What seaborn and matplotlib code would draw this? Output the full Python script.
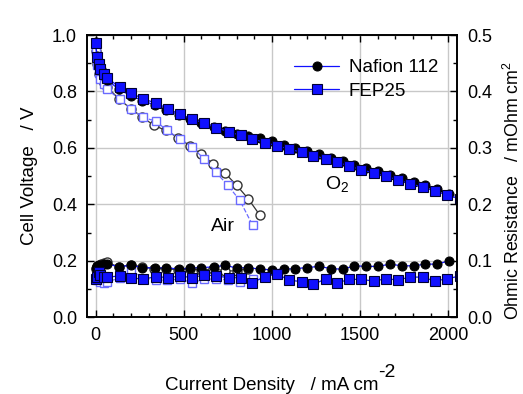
import matplotlib
matplotlib.use("Agg")
import matplotlib.pyplot as plt
from matplotlib.ticker import MultipleLocator, FormatStrFormatter
import seaborn as sns

# ---- data ----
x_naf_o2 = [0, 8, 18, 28, 45, 65, 130, 200, 265, 335, 400, 470, 535, 600, 670, 735, 800, 865,
            932, 1002, 1070, 1131, 1201, 1269, 1335, 1401, 1468, 1534, 1600, 1670, 1737, 1803,
            1869, 1936, 2002]
v_naf_o2 = [0.975, 0.925, 0.898, 0.878, 0.858, 0.842, 0.808, 0.785, 0.768, 0.752, 0.735, 0.718,
            0.704, 0.690, 0.674, 0.661, 0.650, 0.642, 0.634, 0.624, 0.612, 0.601, 0.590, 0.577,
            0.565, 0.553, 0.541, 0.530, 0.518, 0.503, 0.492, 0.478, 0.467, 0.453, 0.435]
r_naf_o2 = [0.088, 0.090, 0.092, 0.093, 0.094, 0.095, 0.089, 0.092, 0.088, 0.087, 0.088, 0.085,
            0.087, 0.088, 0.089, 0.092, 0.087, 0.088, 0.085, 0.084, 0.085, 0.086, 0.088, 0.090,
            0.086, 0.085, 0.091, 0.090, 0.090, 0.094, 0.091, 0.091, 0.094, 0.094, 0.0997]

x_fep_o2 = [0, 7, 17, 27, 45, 66, 136, 203, 269, 341, 411, 477, 549, 615, 685, 754, 822, 888,
            960, 1026, 1098, 1169, 1235, 1305, 1371, 1439, 1506, 1576, 1648, 1714, 1784, 1856,
            1922, 1993, 2065]
v_fep_o2 = [0.971, 0.921, 0.898, 0.880, 0.862, 0.848, 0.815, 0.794, 0.774, 0.759, 0.739, 0.719,
            0.702, 0.688, 0.671, 0.658, 0.644, 0.632, 0.619, 0.608, 0.596, 0.584, 0.572, 0.562,
            0.550, 0.535, 0.523, 0.511, 0.499, 0.487, 0.473, 0.461, 0.447, 0.433, 0.420]
r_fep_o2 = [0.068, 0.072, 0.080, 0.075, 0.071, 0.071, 0.073, 0.070, 0.067, 0.072, 0.070, 0.073,
            0.070, 0.075, 0.073, 0.070, 0.070, 0.061, 0.072, 0.077, 0.0655, 0.063, 0.058, 0.068,
            0.061, 0.067, 0.067, 0.064, 0.068, 0.066, 0.071, 0.071, 0.064, 0.068, 0.073]

x_naf_air = [0, 8, 18, 28, 45, 66, 132, 199, 265, 330, 398, 468, 534, 600, 666, 733, 799, 865, 932]
v_naf_air = [0.945, 0.898, 0.863, 0.845, 0.830, 0.815, 0.774, 0.739, 0.709, 0.680, 0.662, 0.636,
             0.608, 0.577, 0.544, 0.511, 0.468, 0.420, 0.361]
x_naf_air_r = [0, 8, 18, 28, 45, 66, 132, 199, 265, 330, 398, 468, 534, 600, 666, 733, 799, 865]
r_naf_air = [0.086, 0.090, 0.093, 0.095, 0.096, 0.097, 0.089, 0.093, 0.089, 0.086, 0.086, 0.084,
             0.086, 0.083, 0.086, 0.082, 0.082, 0.086]

x_fep_air = [0, 7, 17, 27, 45, 66, 136, 203, 269, 341, 405, 477, 547, 613, 682, 750, 818, 890]
v_fep_air = [0.945, 0.895, 0.865, 0.845, 0.825, 0.808, 0.772, 0.738, 0.708, 0.695, 0.662, 0.632,
             0.603, 0.562, 0.514, 0.467, 0.414, 0.326]
r_fep_air = [0.067, 0.065, 0.070, 0.063, 0.061, 0.062, 0.070, 0.083, 0.068, 0.066, 0.065, 0.068,
             0.061, 0.067, 0.068, 0.066, 0.063, 0.068]

x_ticks = [0, 500, 1000, 1500, 2000]
legend_labels = ["Nafion 112", "FEP25"]

# ---- style ----
sns.set_style("ticks")
plt.rcParams["font.family"] = ["Liberation Sans", "DejaVu Sans"]
plt.rcParams["mathtext.fontset"] = "custom"
plt.rcParams["mathtext.rm"] = "Liberation Sans"
plt.rcParams["mathtext.it"] = "Liberation Sans"
for k in ("text.color", "axes.labelcolor", "xtick.color", "ytick.color", "axes.edgecolor"):
    plt.rcParams[k] = "black"

fig = plt.figure(figsize=(5.23, 3.94), dpi=100)
ax = fig.add_axes([0.166, 0.195, 0.708, 0.716])
ax2 = ax.twinx()

blue = "#1010ff"
light_blue = "#6a6aff"
ms = 6.5

# air curves (open markers)
sns.lineplot(x=x_naf_air, y=v_naf_air, ax=ax, color="#333333", lw=0.9, marker="o", markersize=ms,
             markerfacecolor="white", markeredgecolor="#333333", markeredgewidth=1.0)
sns.lineplot(x=x_fep_air, y=v_fep_air, ax=ax, color=light_blue, lw=0.9, linestyle="--", marker="s",
             markersize=ms - 1, markerfacecolor="white", markeredgecolor=light_blue, markeredgewidth=1.0)
# O2 curves
sns.lineplot(x=x_naf_o2, y=v_naf_o2, ax=ax, color=blue, lw=0.9, marker="o", markersize=ms,
             markerfacecolor="black", markeredgecolor="black", label=legend_labels[0])
sns.lineplot(x=x_fep_o2, y=v_fep_o2, ax=ax, color=blue, lw=0.9, marker="s", markersize=ms,
             markerfacecolor=blue, markeredgecolor="#000033", markeredgewidth=0.8, label=legend_labels[1])

# resistances
sns.lineplot(x=x_naf_air_r, y=r_naf_air, ax=ax2, color="#333333", lw=0.9, marker="o", markersize=ms,
             markerfacecolor="white", markeredgecolor="#333333", markeredgewidth=1.0)
sns.lineplot(x=x_fep_air, y=r_fep_air, ax=ax2, color=light_blue, lw=0.9, linestyle="--", marker="s",
             markersize=ms - 1, markerfacecolor="white", markeredgecolor=light_blue, markeredgewidth=1.0)
sns.lineplot(x=x_naf_o2, y=r_naf_o2, ax=ax2, color=blue, lw=0.9, marker="o", markersize=ms,
             markerfacecolor="black", markeredgecolor="black")
sns.lineplot(x=x_fep_o2, y=r_fep_o2, ax=ax2, color=blue, lw=0.9, marker="s", markersize=ms,
             markerfacecolor=blue, markeredgecolor="#000033", markeredgewidth=0.8)

# axes
ax.set_xlim(-50, 2050)
ax.set_ylim(0, 1.0)
ax2.set_ylim(0, 0.5)
ax.set_xticks(x_ticks)
ax.xaxis.set_minor_locator(MultipleLocator(100))
ax.yaxis.set_major_locator(MultipleLocator(0.2))
ax.yaxis.set_minor_locator(MultipleLocator(0.1))
ax2.yaxis.set_major_locator(MultipleLocator(0.1))
ax2.yaxis.set_minor_locator(MultipleLocator(0.05))
ax.yaxis.set_major_formatter(FormatStrFormatter("%.1f"))
ax2.yaxis.set_major_formatter(FormatStrFormatter("%.1f"))

ax.grid(True, which="major", color="#c8c8c8", lw=1.0)
ax.set_axisbelow(True)

for a in (ax, ax2):
    a.tick_params(which="both", direction="in", color="black", labelcolor="black", width=1.0,
                  labelsize=13, pad=7)
    a.tick_params(which="major", length=5)
    a.tick_params(which="minor", length=3)
    for s in a.spines.values():
        s.set_color("black")
        s.set_linewidth(1.2)
ax.tick_params(which="both", top=True, right=False)

ax.set_xlabel("Current Density   / mA cm", fontsize=13.5, labelpad=24)
ax.set_ylabel("Cell Voltage   / V", fontsize=13.5, labelpad=10)
ax2.set_ylabel("Ohmic Resistance   / mOhm cm$^{2}$", fontsize=12.8, labelpad=8)
ax2.yaxis.label.set_y(0.45)

ax.text(1367, 0.473, "O$_2$", fontsize=14, ha="center", va="center")
ax.text(722, 0.32, "Air", fontsize=14, ha="center", va="center")

handles, labels = ax.get_legend_handles_labels()
ax.legend(handles, labels, loc="upper left", bbox_to_anchor=(0.56, 0.915), frameon=False,
          fontsize=13.5, handlelength=2.4, borderpad=0, borderaxespad=0, handletextpad=0.5,
          labelspacing=0.35)

# superscript for x label, nearly full size as in the reference
fig.canvas.draw()
bb = ax.xaxis.label.get_window_extent()
fig.text((bb.x1 - 1) / fig.bbox.width, (bb.y1 - 4) / fig.bbox.height, "-2", fontsize=14,
         ha="left", va="bottom")

fig.savefig("out.png", dpi=100)
